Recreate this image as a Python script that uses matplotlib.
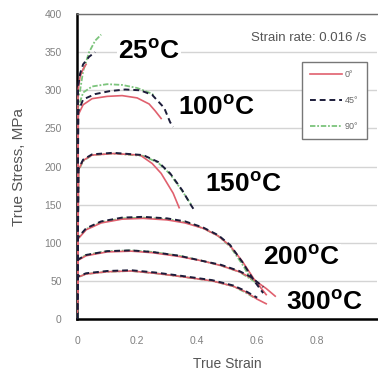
import matplotlib
matplotlib.use('Agg')
import matplotlib.pyplot as plt

plt.rcParams['font.family'] = ['Liberation Sans', 'DejaVu Sans']
plt.rcParams['mathtext.fontset'] = 'custom'
plt.rcParams['mathtext.rm'] = 'Liberation Sans:bold'
plt.rcParams['mathtext.bf'] = 'Liberation Sans:bold'

# true strain / true stress (MPa)
# 25 C
e25_0 = [0, 0.003, 0.01, 0.02, 0.03]
s25_0 = [0, 300, 318, 328, 334]
e25_45 = [0, 0.003, 0.01, 0.02, 0.04, 0.06]
s25_45 = [0, 305, 322, 334, 344, 350]
e25_90 = [0, 0.003, 0.01, 0.02, 0.04, 0.06, 0.08]
s25_90 = [0, 290, 300, 325, 350, 365, 373]
# 100 C
e100_0 = [0, 0.004, 0.02, 0.05, 0.1, 0.15, 0.2, 0.24, 0.26, 0.28]
s100_0 = [0, 268, 281, 289, 292, 293, 290, 282, 273, 263]
e100_45 = [0, 0.004, 0.02, 0.06, 0.11, 0.16, 0.21, 0.25, 0.29, 0.31, 0.32]
s100_45 = [0, 272, 288, 295, 299, 301, 300, 294, 277, 258, 252]
e100_90 = [0, 0.004, 0.02, 0.05, 0.1, 0.15, 0.2, 0.24, 0.26]
s100_90 = [0, 278, 297, 305, 308, 307, 303, 297, 293]
# 150 C
e150_0 = [0, 0.005, 0.02, 0.05, 0.12, 0.21, 0.25, 0.28, 0.32, 0.34]
s150_0 = [0, 196, 208, 215, 217, 215, 204, 191, 165, 146]
e150_45 = [0, 0.005, 0.02, 0.05, 0.12, 0.22, 0.27, 0.31, 0.35, 0.38, 0.39]
s150_45 = [0, 197, 209, 216, 218, 215, 206, 191, 169, 149, 143]
e150_90 = [0, 0.005, 0.02, 0.05, 0.12, 0.22, 0.27, 0.31, 0.35, 0.38]
s150_90 = [0, 195, 207, 215, 217, 214, 205, 190, 168, 150]
# 200 C
e200_0 = [0, 0.003, 0.03, 0.08, 0.15, 0.22, 0.3, 0.36, 0.42, 0.47, 0.51, 0.55, 0.59, 0.63]
s200_0 = [0, 105, 117, 126, 131, 132, 130, 126, 119, 109, 96, 76, 52, 32]
e200_45 = [0, 0.003, 0.03, 0.08, 0.15, 0.22, 0.3, 0.36, 0.42, 0.47, 0.51, 0.55, 0.59, 0.62]
s200_45 = [0, 107, 119, 128, 133, 134, 132, 128, 120, 110, 97, 75, 50, 34]
e200_90 = [0, 0.003, 0.03, 0.08, 0.15, 0.22, 0.3, 0.36, 0.42, 0.47, 0.51, 0.55, 0.58]
s200_90 = [0, 106, 118, 127, 132, 133, 131, 127, 119, 109, 95, 72, 52]
# 250 C (unlabelled middle set)
e250_0 = [0, 0.003, 0.03, 0.1, 0.18, 0.25, 0.34, 0.42, 0.48, 0.54, 0.58, 0.63, 0.66]
s250_0 = [0, 77, 83, 88, 89, 87, 82, 76, 70, 62, 54, 40, 30]
e250_45 = [0, 0.003, 0.03, 0.1, 0.18, 0.25, 0.34, 0.42, 0.48, 0.54, 0.58, 0.62]
s250_45 = [0, 78, 84, 89, 90, 88, 83, 76, 71, 63, 55, 42]
e250_90 = [0, 0.003, 0.03, 0.1, 0.18, 0.25, 0.34, 0.42, 0.48, 0.54, 0.58, 0.61]
s250_90 = [0, 78, 84, 89, 90, 88, 83, 76, 70, 62, 52, 44]
# 300 C
e300_0 = [0, 0.003, 0.03, 0.1, 0.18, 0.26, 0.34, 0.45, 0.52, 0.56, 0.6, 0.63]
s300_0 = [0, 55, 59, 62, 63, 60, 56, 50, 43, 36, 26, 20]
e300_45 = [0, 0.003, 0.03, 0.1, 0.18, 0.26, 0.34, 0.45, 0.52, 0.56, 0.6]
s300_45 = [0, 56, 60, 63, 64, 61, 57, 51, 44, 37, 28]
e300_90 = [0, 0.003, 0.03, 0.1, 0.18, 0.26, 0.34, 0.45, 0.52, 0.56, 0.59]
s300_90 = [0, 55, 59, 62, 63, 60, 56, 50, 43, 35, 28]

temp_labels = ['25', '100', '150', '200', '300']
label_x = [0.137, 0.337, 0.427, 0.62, 0.697]
label_y = [351, 278, 176, 81, 22]

xticks = [0, 0.2, 0.4, 0.6, 0.8]
xticklabels = ['0', '0.2', '0.4', '0.6', '0.8']
yticks = [0, 50, 100, 150, 200, 250, 300, 350, 400]

red = '#e0606e'
navy = '#1c1c3a'
green = '#7cc47c'

fig = plt.figure(figsize=(3.78, 3.74), dpi=100)
ax = fig.add_axes([0.204, 0.147, 0.794, 0.8155])

curves_90 = [(e25_90, s25_90), (e100_90, s100_90), (e150_90, s150_90),
             (e200_90, s200_90), (e250_90, s250_90), (e300_90, s300_90)]
curves_0 = [(e25_0, s25_0), (e100_0, s100_0), (e150_0, s150_0),
            (e200_0, s200_0), (e250_0, s250_0), (e300_0, s300_0)]
curves_45 = [(e25_45, s25_45), (e100_45, s100_45), (e150_45, s150_45),
             (e200_45, s200_45), (e250_45, s250_45), (e300_45, s300_45)]

for i, (e, s) in enumerate(curves_90):
    ax.plot(e, s, color=green, lw=1.3, ls=(0, (3, 1, 1, 1)),
            label='90°' if i == 0 else None, zorder=3)
for i, (e, s) in enumerate(curves_0):
    ax.plot(e, s, color=red, lw=1.2, label='0°' if i == 0 else None, zorder=4)
for i, (e, s) in enumerate(curves_45):
    ax.plot(e, s, color=navy, lw=1.4, ls=(0, (3, 2)),
            label='45°' if i == 0 else None, zorder=5)

for t, x, y in zip(temp_labels, label_x, label_y):
    ax.text(x, y, t + r'$^{\rm o}$C', fontsize=19, fontweight='bold', color='black',
            ha='left', va='center', zorder=6,
            bbox=dict(facecolor='white', edgecolor='none', pad=0.5))

ax.text(0.963, 0.92, 'Strain rate: 0.016 /s', transform=ax.transAxes, fontsize=9.5,
        color='#555555', ha='right', va='center')

h, l = ax.get_legend_handles_labels()
order = [l.index('0°'), l.index('45°'), l.index('90°')]
leg = ax.legend([h[i] for i in order], [l[i] for i in order], loc='upper left',
                bbox_to_anchor=(0.733, 0.859), fontsize=6.5, handlelength=3.6,
                labelspacing=1.9, borderpad=0.9, handletextpad=0.3,
                fancybox=False, framealpha=1, edgecolor='#777777')
leg.get_frame().set_linewidth(1.0)
for t in leg.get_texts():
    t.set_color('#666666')

ax.set_xlim(0, 1.0)
ax.set_ylim(0, 400)
ax.set_xticks(xticks)
ax.set_xticklabels(xticklabels)
ax.set_yticks(yticks)
ax.tick_params(length=0, labelsize=7.5, labelcolor='#808080')
ax.tick_params(axis='y', pad=11)
ax.tick_params(axis='x', pad=12)
ax.yaxis.grid(True, color='#d4d4d4', lw=1.0)
ax.set_axisbelow(True)

ax.spines['right'].set_visible(False)
ax.spines['top'].set_color('#707070')
ax.spines['top'].set_linewidth(1.0)
ax.spines['left'].set_linewidth(1.8)
ax.spines['bottom'].set_linewidth(1.8)

ax.set_xlabel('True Strain', fontsize=10, color='#555555', labelpad=8)
ax.set_ylabel('True Stress, MPa', fontsize=11, color='#555555', labelpad=13)

fig.savefig('out.png', dpi=100)
